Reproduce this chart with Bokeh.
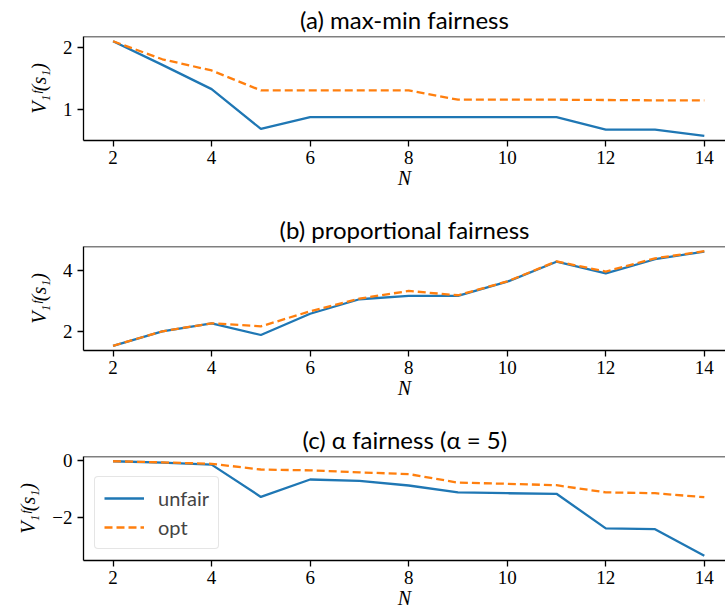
from bokeh.plotting import figure
from bokeh.layouts import column
from bokeh.models import Span, FixedTicker, Range1d, Legend, LegendItem
from bokeh.embed import file_html
from bokeh.resources import INLINE

# ---------------- data ----------------
N = list(range(2, 15))
x_ticks = [2, 4, 6, 8, 10, 12, 14]

maxmin_unfair = [2.10, 1.72, 1.33, 0.69, 0.88, 0.88, 0.88, 0.88, 0.88, 0.88, 0.68, 0.68, 0.58]
maxmin_opt = [2.10, 1.81, 1.63, 1.31, 1.31, 1.31, 1.31, 1.16, 1.16, 1.16, 1.155, 1.15, 1.15]

prop_unfair = [1.55, 2.02, 2.28, 1.90, 2.59, 3.06, 3.17, 3.17, 3.63, 4.28, 3.90, 4.36, 4.61]
prop_opt = [1.55, 2.02, 2.28, 2.18, 2.67, 3.08, 3.33, 3.19, 3.64, 4.29, 3.96, 4.39, 4.62]

alpha_unfair = [-0.02, -0.07, -0.14, -1.27, -0.66, -0.71, -0.87, -1.11, -1.14, -1.16, -2.37, -2.40, -3.33]
alpha_opt = [-0.02, -0.06, -0.11, -0.31, -0.34, -0.41, -0.47, -0.77, -0.81, -0.86, -1.11, -1.14, -1.28]

titles = ["(a) max-min fairness", "(b) proportional fairness", "(c) \u03b1 fairness (\u03b1 = 5)"]
y_ticks = [[1, 2], [2, 4], [-2, 0]]
series_labels = ["unfair", "opt"]
x_label = "N"
y_label = "V\u2081\u1da0(s\u2081)"

BLUE = "#1f77b4"
ORANGE = "#ff7f0e"
SERIF = "Liberation Serif"
SANS = "Lato"

W = 725
FRAME_TOP = 36
FRAME_H = 104
LEFT = 83


def make_panel(title, unfair, opt, yt, height, legend=False):
    lo = min(unfair + opt)
    hi = max(unfair + opt)
    pad = 0.05 * (hi - lo)
    p = figure(width=W, height=height,
               x_range=Range1d(1.4, 14.43), y_range=Range1d(lo - pad, hi + pad),
               output_backend="svg", toolbar_location=None,
               min_border_left=LEFT, min_border_right=0,
               min_border_top=FRAME_TOP, min_border_bottom=height - FRAME_TOP - FRAME_H)
    p.outline_line_color = None
    p.grid.visible = False
    p.background_fill_color = "white"
    p.border_fill_color = "white"

    p.title.text = title
    p.title.align = "center"
    p.title.offset = 4
    p.title.text_font = SANS
    p.title.text_font_size = "24px"
    p.title.text_font_style = "normal"
    p.title.text_color = "black"
    p.title.standoff = 5

    for ax in (p.xaxis[0], p.yaxis[0]):
        ax.major_tick_out = 6
        ax.major_tick_in = 0
        ax.minor_tick_out = 0
        ax.minor_tick_in = 0
        ax.axis_line_width = 1.3
        ax.axis_line_color = "black"
        ax.major_tick_line_width = 1.3
        ax.major_tick_line_color = "black"
        ax.major_label_text_font = SERIF
        ax.major_label_text_font_size = "19px"
        ax.major_label_text_color = "black"
        ax.axis_label_text_font = SERIF
        ax.axis_label_text_font_style = "italic"
        ax.axis_label_text_font_size = "20px"
        ax.axis_label_text_color = "black"
    p.xaxis[0].ticker = FixedTicker(ticks=x_ticks)
    p.yaxis[0].ticker = FixedTicker(ticks=yt)
    p.yaxis[0].major_label_overrides = {t: (("\u2212" + str(-t)) if t < 0 else str(t)) for t in yt}
    p.xaxis[0].major_label_standoff = 4
    p.yaxis[0].major_label_standoff = 5
    p.xaxis[0].axis_label = x_label
    p.xaxis[0].axis_label_standoff = 0
    p.yaxis[0].axis_label = y_label
    p.yaxis[0].axis_label_standoff = 10

    p.add_layout(Span(location=hi + pad, dimension="width", line_color="black", line_width=1.3))

    r1 = p.line(N, unfair, line_color=BLUE, line_width=2.3)
    r2 = p.line(N, opt, line_color=ORANGE, line_width=2.3, line_dash="8 4")

    if legend:
        lg = Legend(items=[LegendItem(label=series_labels[0], renderers=[r1]),
                           LegendItem(label=series_labels[1], renderers=[r2])],
                    location="bottom_left")
        lg.label_text_font = SANS
        lg.label_text_font_size = "20px"
        lg.glyph_width = 40
        lg.glyph_height = 20
        lg.label_height = 20
        lg.label_standoff = 14
        lg.padding = 9
        lg.spacing = 5
        lg.margin = 11
        lg.border_line_color = "#cccccc"
        lg.border_line_width = 1.2
        lg.background_fill_alpha = 0.8
        lg.border_radius = 4
        p.add_layout(lg)
    return p


heights = [210, 210, 194]
pa = make_panel(titles[0], maxmin_unfair, maxmin_opt, y_ticks[0], heights[0])
pb = make_panel(titles[1], prop_unfair, prop_opt, y_ticks[1], heights[1])
pc = make_panel(titles[2], alpha_unfair, alpha_opt, y_ticks[2], heights[2], legend=True)

layout = column(pa, pb, pc, spacing=0)
open("out.html", "w").write(file_html(layout, INLINE))
